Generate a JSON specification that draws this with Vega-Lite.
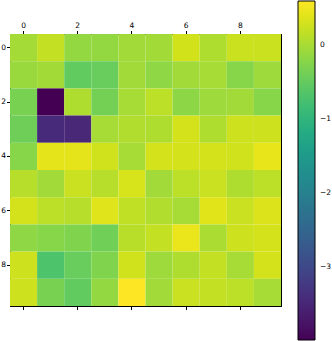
{
  "$schema": "https://vega.github.io/schema/vega-lite/v6.json",
  "autosize": "none",
  "padding": {"left": 10, "top": 34, "right": 51, "bottom": 35},
  "width": 271,
  "height": 272,
  "config": {
    "font": "DejaVu Sans",
    "view": {"stroke": "#000", "strokeWidth": 1},
    "axis": {"labelFont": "DejaVu Sans", "labelFontSize": 7.5, "labelColor": "#000", "tickColor": "#000", "domainColor": "#000", "tickSize": 3.5, "grid": false, "title": null, "zindex": 1}
  },
  "data": {"values": [
    {"row":0,"col":0,"v":-0.02},{"row":0,"col":1,"v":0.19},{"row":0,"col":2,"v":-0.13},{"row":0,"col":3,"v":-0.13},{"row":0,"col":4,"v":-0.04},{"row":0,"col":5,"v":-0.03},{"row":0,"col":6,"v":0.29},{"row":0,"col":7,"v":0.05},{"row":0,"col":8,"v":0.24},{"row":0,"col":9,"v":0.24},
    {"row":1,"col":0,"v":-0.09},{"row":1,"col":1,"v":-0.03},{"row":1,"col":2,"v":-0.5},{"row":1,"col":3,"v":-0.45},{"row":1,"col":4,"v":-0.04},{"row":1,"col":5,"v":-0.16},{"row":1,"col":6,"v":-0.04},{"row":1,"col":7,"v":0.0},{"row":1,"col":8,"v":-0.22},{"row":1,"col":9,"v":-0.06},
    {"row":2,"col":0,"v":-0.32},{"row":2,"col":1,"v":-3.98},{"row":2,"col":2,"v":0.05},{"row":2,"col":3,"v":-0.36},{"row":2,"col":4,"v":0.0},{"row":2,"col":5,"v":0.14},{"row":2,"col":6,"v":-0.18},{"row":2,"col":7,"v":-0.06},{"row":2,"col":8,"v":-0.04},{"row":2,"col":9,"v":-0.22},
    {"row":3,"col":0,"v":-0.41},{"row":3,"col":1,"v":-3.43},{"row":3,"col":2,"v":-3.48},{"row":3,"col":3,"v":0.0},{"row":3,"col":4,"v":0.07},{"row":3,"col":5,"v":0.05},{"row":3,"col":6,"v":0.3},{"row":3,"col":7,"v":0.05},{"row":3,"col":8,"v":0.26},{"row":3,"col":9,"v":0.26},
    {"row":4,"col":0,"v":-0.22},{"row":4,"col":1,"v":0.42},{"row":4,"col":2,"v":0.42},{"row":4,"col":3,"v":0.28},{"row":4,"col":4,"v":0.0},{"row":4,"col":5,"v":0.3},{"row":4,"col":6,"v":0.3},{"row":4,"col":7,"v":0.3},{"row":4,"col":8,"v":0.28},{"row":4,"col":9,"v":0.44},
    {"row":5,"col":0,"v":0.1},{"row":5,"col":1,"v":-0.04},{"row":5,"col":2,"v":0.23},{"row":5,"col":3,"v":0.1},{"row":5,"col":4,"v":0.33},{"row":5,"col":5,"v":-0.04},{"row":5,"col":6,"v":0.14},{"row":5,"col":7,"v":0.23},{"row":5,"col":8,"v":0.05},{"row":5,"col":9,"v":0.14},
    {"row":6,"col":0,"v":0.3},{"row":6,"col":1,"v":0.14},{"row":6,"col":2,"v":0.1},{"row":6,"col":3,"v":0.39},{"row":6,"col":4,"v":0.17},{"row":6,"col":5,"v":0.07},{"row":6,"col":6,"v":0.0},{"row":6,"col":7,"v":0.4},{"row":6,"col":8,"v":0.23},{"row":6,"col":9,"v":0.37},
    {"row":7,"col":0,"v":-0.16},{"row":7,"col":1,"v":-0.22},{"row":7,"col":2,"v":-0.27},{"row":7,"col":3,"v":-0.39},{"row":7,"col":4,"v":0.12},{"row":7,"col":5,"v":0.19},{"row":7,"col":6,"v":0.46},{"row":7,"col":7,"v":0.03},{"row":7,"col":8,"v":0.26},{"row":7,"col":9,"v":0.3},
    {"row":8,"col":0,"v":0.26},{"row":8,"col":1,"v":-0.68},{"row":8,"col":2,"v":-0.45},{"row":8,"col":3,"v":-0.27},{"row":8,"col":4,"v":0.28},{"row":8,"col":5,"v":-0.06},{"row":8,"col":6,"v":0.05},{"row":8,"col":7,"v":0.19},{"row":8,"col":8,"v":0.0},{"row":8,"col":9,"v":0.3},
    {"row":9,"col":0,"v":0.26},{"row":9,"col":1,"v":-0.32},{"row":9,"col":2,"v":-0.5},{"row":9,"col":3,"v":-0.13},{"row":9,"col":4,"v":0.6},{"row":9,"col":5,"v":-0.04},{"row":9,"col":6,"v":0.23},{"row":9,"col":7,"v":0.19},{"row":9,"col":8,"v":0.14},{"row":9,"col":9,"v":0.0}
  ]},
  "layer": [
    {
      "mark": {"type": "rect"},
      "encoding": {
        "x": {"field": "col", "type": "ordinal", "scale": {"paddingInner": 0, "paddingOuter": 0},
          "axis": {"orient": "top", "values": [0,2,4,6,8], "labelAngle": 0, "labelPadding": 1}},
        "y": {"field": "row", "type": "ordinal", "scale": {"paddingInner": 0, "paddingOuter": 0},
          "axis": {"orient": "left", "values": [0,2,4,6,8], "labelPadding": 1}},
        "color": {"field": "v", "type": "quantitative",
          "scale": {"scheme": "viridis", "domain": [-3.98, 0.6]},
          "legend": {"orient": "none", "legendX": 288, "legendY": -33, "title": null, "direction": "vertical",
            "gradientLength": 339, "gradientThickness": 17, "gradientStrokeColor": "#000", "gradientStrokeWidth": 1,
            "values": [0, -1, -2, -3], "labelFont": "DejaVu Sans", "labelFontSize": 7.5, "labelColor": "#000", "labelOffset": 5, "padding": 0,
            "labelExpr": "replace(datum.label, '-', '−')"}}
      }
    },
    {
      "mark": {"type": "rect", "fillOpacity": 0, "strokeOpacity": 0},
      "encoding": {
        "x": {"field": "col", "type": "ordinal",
          "axis": {"orient": "bottom", "values": [0,2,4,6,8], "labels": false}},
        "y": {"field": "row", "type": "ordinal",
          "axis": {"orient": "right", "ticks": false, "labels": false}}
      }
    }
  ],
  "resolve": {"axis": {"x": "independent", "y": "independent"}}
}
